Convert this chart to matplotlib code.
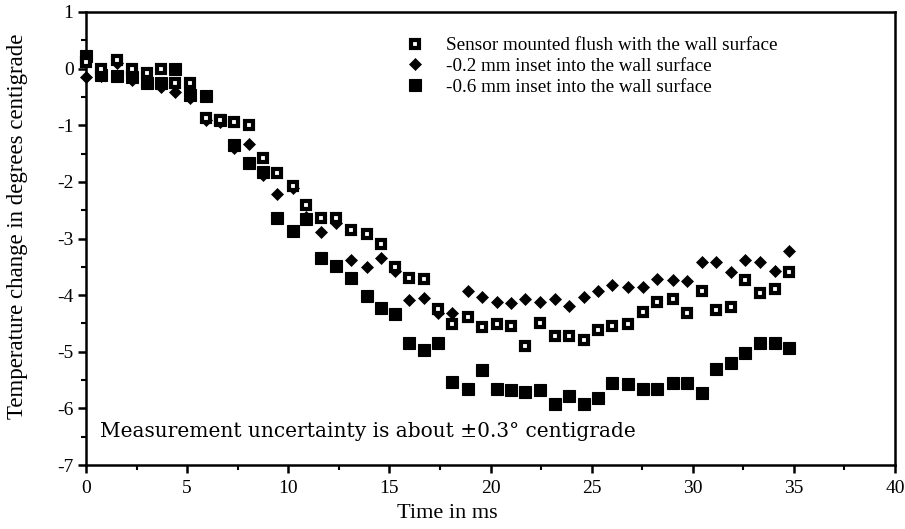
import matplotlib
matplotlib.use("Agg")
import matplotlib.pyplot as plt
from matplotlib.ticker import MultipleLocator
from matplotlib.lines import Line2D

times = [0.0, 0.73, 1.55, 2.26, 3.0, 3.69, 4.4, 5.14, 5.93, 6.62, 7.32, 8.05, 8.74, 9.46,
         10.25, 10.9, 11.6, 12.38, 13.08, 13.88, 14.57, 15.28, 15.99, 16.69, 17.42, 18.12,
         18.9, 19.6, 20.31, 21.0, 21.71, 22.45, 23.2, 23.9, 24.6, 25.3, 26.03, 26.8, 27.53,
         28.23, 29.02, 29.72, 30.45, 31.15, 31.87, 32.6, 33.32, 34.07, 34.75]

flush = [0.12, 0.0, 0.15, 0.0, -0.07, 0.0, -0.26, -0.26, -0.88, -0.9, -0.95, -1.0, -1.58, -1.84,
         -2.07, -2.41, -2.63, -2.63, -2.85, -2.92, -3.1, -3.5, -3.7, -3.72, -4.24, -4.51,
         -4.39, -4.57, -4.51, -4.54, -4.89, -4.5, -4.72, -4.72, -4.79, -4.62, -4.54, -4.51,
         -4.29, -4.13, -4.07, -4.32, -3.92, -4.27, -4.21, -3.73, -3.97, -3.9, -3.6]

inset02 = [-0.15, -0.13, 0.1, -0.2, -0.25, -0.32, -0.41, -0.52, -0.9, -0.95, -1.4, -1.33, -1.88,
           -2.21, -2.1, -2.62, -2.88, -2.72, -3.38, -3.5, -3.35, -3.58, -4.09, -4.05, -4.32,
           -4.32, -3.92, -4.04, -4.12, -4.14, -4.07, -4.13, -4.07, -4.19, -4.04, -3.93, -3.82,
           -3.86, -3.85, -3.72, -3.73, -3.75, -3.42, -3.42, -3.59, -3.38, -3.42, -3.57, -3.22]

inset06 = [0.22, -0.12, -0.13, -0.15, -0.26, -0.26, 0.0, -0.47, -0.48, -0.9, -1.35, -1.67, -1.83,
           -2.64, -2.86, -2.66, -3.35, -3.48, -3.7, -4.02, -4.22, -4.33, -4.84, -4.97, -4.85,
           -5.53, -5.65, -5.32, -5.65, -5.68, -5.71, -5.68, -5.92, -5.79, -5.92, -5.82, -5.56,
           -5.57, -5.65, -5.65, -5.56, -5.56, -5.73, -5.31, -5.2, -5.02, -4.85, -4.84, -4.93]

labels = ["Sensor mounted flush with the wall surface",
          "-0.2 mm inset into the wall surface",
          "-0.6 mm inset into the wall surface"]
xticks = [0, 5, 10, 15, 20, 25, 30, 35, 40]
yticks = [1, 0, -1, -2, -3, -4, -5, -6, -7]

serif = ["Liberation Serif", "DejaVu Serif"]
plt.rcParams["font.family"] = serif

fig = plt.figure(figsize=(9.05, 5.29), dpi=100)
ax = fig.add_axes([86 / 905, 64 / 529, 809 / 905, 453 / 529])

open_style = dict(marker="s", ms=6, mfc="white", mec="black", mew=3, ls="none", clip_on=False)
dia_style = dict(marker="D", ms=6.5, mfc="black", mec="black", mew=0.5, ls="none", clip_on=False)
fill_style = dict(marker="s", ms=8, mfc="black", mec="black", mew=0.8, ls="none", clip_on=False)

ax.plot(times, inset06, **fill_style, zorder=3)
ax.plot(times, inset02, **dia_style, zorder=4)
ax.plot(times, flush, **open_style, zorder=5)

ax.set_xlim(0, 40)
ax.set_ylim(-7, 1)
ax.set_xticks(xticks)
ax.set_yticks(yticks)
ax.set_yticklabels([str(v) for v in yticks])
ax.xaxis.set_minor_locator(MultipleLocator(2.5))
ax.yaxis.set_minor_locator(MultipleLocator(0.5))
ax.tick_params(axis="both", which="major", direction="out", length=6, width=1.8,
               labelsize=14, top=False, right=False)
ax.tick_params(axis="both", which="minor", direction="out", length=3.5, width=1.5,
               top=False, right=False)
ax.tick_params(axis="x", pad=5)
ax.tick_params(axis="y", pad=3)
for s in ax.spines.values():
    s.set_linewidth(1.8)

ax.set_xlabel("Time in ms", fontsize=16, labelpad=-1)
ax.xaxis.set_label_coords(0.446, -0.085)
ax.set_ylabel("Temperature change in degrees centigrade", fontsize=16.5)
ax.yaxis.set_label_coords(-0.072, 0.526)

handles = [Line2D([], [], **open_style), Line2D([], [], **dia_style), Line2D([], [], **fill_style)]
leg = ax.legend(handles, labels, loc="upper left", bbox_to_anchor=(0.383, 0.962),
                frameon=False, fontsize=13.8, handlelength=1.2, handletextpad=1.0,
                labelspacing=0.18, borderaxespad=0)

ax.text(0.7, -6.5, "Measurement uncertainty is about \u00b10.3\u00b0 centigrade",
        fontsize=14.5, family=["DejaVu Serif"], va="baseline", ha="left")

fig.savefig("out.png", dpi=100)
